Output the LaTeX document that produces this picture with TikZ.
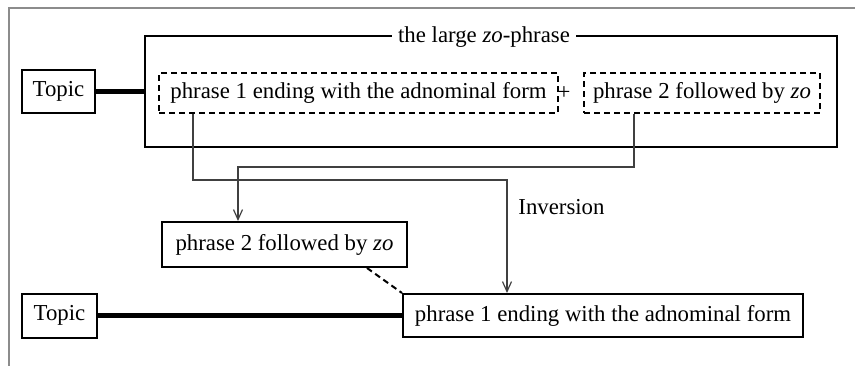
\documentclass[tikz,border=0pt]{standalone}
\usepackage{fontspec}
\setmainfont{Liberation Serif}
\usetikzlibrary{arrows.meta}
\begin{document}
\begin{tikzpicture}[x=0.5pt,y=-0.5pt,
  every node/.style={font=\fontsize{11.4}{13}\selectfont, inner sep=0pt},
  solidbox/.style={draw, line width=1pt, minimum height=21.5pt},
  dashbox/.style={draw, line width=0.7pt, dash pattern=on 3pt off 2pt, minimum height=20pt},
  thickline/.style={line width=2.6pt},
  flow/.style={draw=black!75, line width=0.6pt, -{Straight Barb[length=5pt,width=4.5pt]}},
  frame/.style={draw=black!45, line width=1pt}]
\useasboundingbox (0,0) rectangle (855,366);
% outer frame
\coordinate (fr1) at (855,8);
\coordinate (fr2) at (9,8);
\coordinate (fr3) at (9,366);
\draw[frame] (fr1) -- (fr2) -- (fr3);
% upper part
\node[solidbox, minimum width=346pt, minimum height=55.5pt] (big) at (491,91.5) {};
\node[fill=white, inner xsep=3pt, inner ysep=1pt] (title) at (484,37) {the large \textit{zo}-phrase};
\node[solidbox, minimum width=36.5pt] (topA) at (58.5,91.5) {Topic};
\node[dashbox, minimum width=199.5pt] (d1) at (358.5,93) {phrase 1 ending with the adnominal form};
\node (plus) at (564,93) {+};
\node[dashbox, minimum width=118pt] (d2) at (702,93) {phrase 2 followed by \textit{zo}};
\draw[thickline] (topA.east) -- (big.west);
% lower part
\node[solidbox, minimum width=122.5pt, minimum height=22.5pt] (p2) at (284.5,244.5) {phrase 2 followed by \textit{zo}};
\node[solidbox, minimum width=200pt] (p1) at (603,315.5) {phrase 1 ending with the adnominal form};
\node[solidbox, minimum width=37.5pt, minimum height=22pt] (topB) at (59.5,315.5) {Topic};
\node[anchor=west] (inv) at (518,207) {Inversion};
\draw[thickline] (topB.east) -- (p1.west);
% connectors
\coordinate (c1) at (193,180);
\coordinate (c2) at (507,180);
\coordinate (c3) at (634,167);
\coordinate (c4) at (238,167);
\draw[flow] (d1.south -| c1) -- (c1) -- (c2) -- (p1.north -| c2);
\draw[flow] (d2.south -| c3) -- (c3) -- (c4) -- (p2.north -| c4);
\coordinate (dsh) at (367,267);
\draw[line width=1pt, dash pattern=on 3pt off 2pt] (p2.south -| dsh) -- (p1.north west);
\end{tikzpicture}
\end{document}
